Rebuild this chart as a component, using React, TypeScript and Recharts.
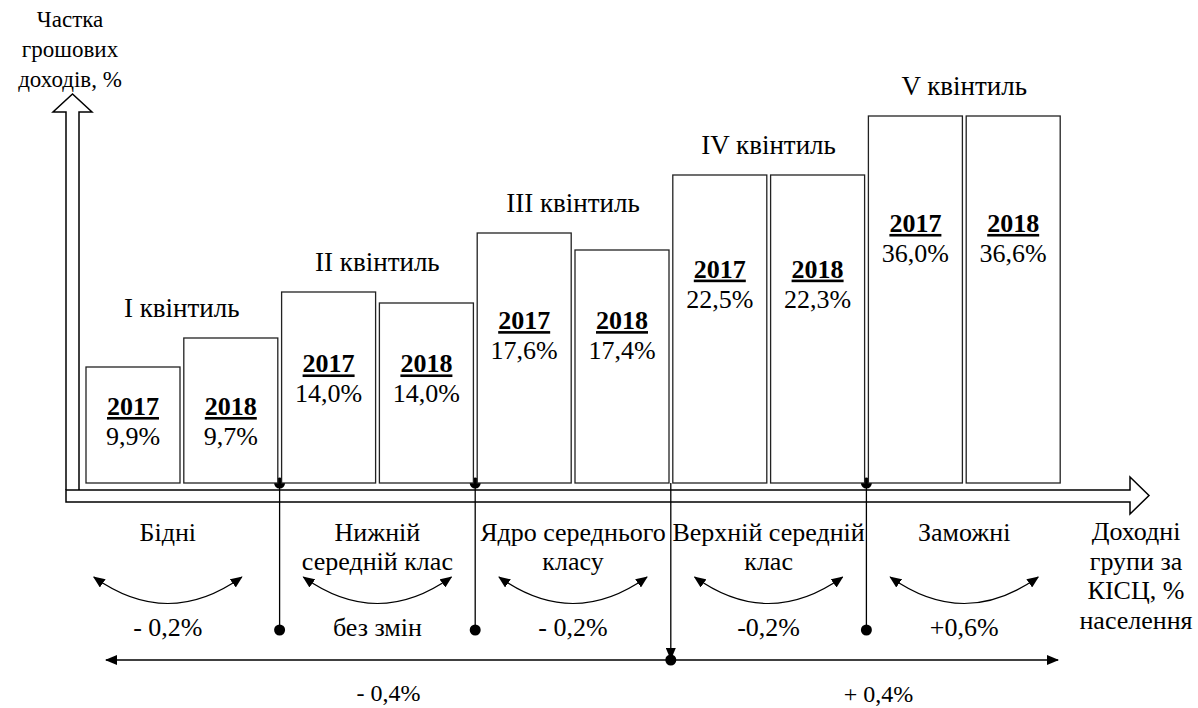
import { Bar, BarChart, Customized, XAxis, YAxis } from "recharts";

const quintiles = ["I", "II", "III", "IV", "V"];
const years = ["2017", "2018"];
// share of money income, % (2017, 2018 for each quintile)
const incomeShare = [9.9, 9.7, 14.0, 14.0, 17.6, 17.4, 22.5, 22.3, 36.0, 36.6];
// bars in the scheme are not to scale with the share, heights as drawn
const drawnHeight = [11.6, 14.5, 19.1, 18.0, 25.0, 23.3, 30.8, 30.8, 36.7, 36.7];
const groupNames = [
  ["Бідні"],
  ["Нижній", "середній клас"],
  ["Ядро середнього", "класу"],
  ["Верхній середній", "клас"],
  ["Заможні"],
];
const groupChange = ["- 0,2%", "без змін", "- 0,2%", "-0,2%", "+0,6%"];
const sideChange = ["- 0,4%", "+ 0,4%"];
const yTitle = ["Частка", "грошових", "доходів, %"];
const xTitle = ["Доходні", "групи за", "КІСЦ, %", "населення"];

const data = incomeShare.map((share, i) => ({
  key: quintiles[Math.floor(i / 2)] + "-" + years[i % 2],
  quintile: quintiles[Math.floor(i / 2)],
  year: years[i % 2],
  share,
  h: drawnHeight[i],
}));

const W = 1198;
const H = 708;
const MARGIN = { top: 83, right: 136, bottom: 225, left: 84 };
const GAP = 2;
const FONT = "Liberation Serif";

const PLOT_L = MARGIN.left;
const PLOT_R = W - MARGIN.right;
const BASE = H - MARGIN.bottom;
const QW = (PLOT_R - PLOT_L) / quintiles.length;
const qCenter = (k: number) => PLOT_L + (k + 0.5) * QW - (k === 0 ? 14 : 0);
const qEdge = (k: number) => PLOT_L + k * QW;

const fmt = (v: number) => v.toFixed(1).replace(".", ",") + "%";

function BarWithLabels(props: any) {
  const { x, y, width, height, payload } = props;
  const index = props.index ?? data.findIndex((d) => d.key === payload.key);
  const unit = height / drawnHeight[index];
  const partner = index ^ 1;
  const pH = drawnHeight[partner] * unit;
  const base = y + height;
  const meanH = (height + pH) / 2;
  const yearY = base - meanH + 24 + 0.226 * meanH;
  const cx = x + width / 2;
  const topMost = base - Math.max(height, pH);
  return (
    <g>
      <rect x={x} y={y} width={width} height={height} fill="#fff" stroke="#222" strokeWidth={1.3} />
      <text
        x={cx}
        y={yearY + 9}
        textAnchor="middle"
        style={{ fontFamily: FONT }}
        fontSize={26}
        fontWeight="bold"
        textDecoration="underline"
        fill="#000"
      >
        {payload.year}
      </text>
      <text x={cx} y={yearY + 39} textAnchor="middle" style={{ fontFamily: FONT }} fontSize={26} fill="#000">
        {fmt(payload.share)}
      </text>
      {index % 2 === 1 && (
        <text
          x={x - GAP}
          y={topMost - 21}
          textAnchor="middle"
          style={{ fontFamily: FONT }}
          fontSize={27}
          fill="#000"
        >
          {payload.quintile} квінтиль
        </text>
      )}
    </g>
  );
}

function Annotations() {
  const txt = { style: { fontFamily: FONT }, fill: "#000", textAnchor: "middle" as const };
  const dot = (cx: number, cy: number, k: string) => <circle key={k} cx={cx} cy={cy} r={5.5} fill="#000" />;
  const mid = qEdge(3);
  const hl = 106;
  const hr = 1058;
  return (
    <g>
      <defs>
        <marker
          id="arrowHead"
          viewBox="0 0 12 10"
          refX="11"
          refY="5"
          markerWidth="12"
          markerHeight="10"
          markerUnits="userSpaceOnUse"
          orient="auto-start-reverse"
        >
          <path d="M0,0 L12,5 L0,10 z" fill="#000" />
        </marker>
      </defs>
      {/* axes drawn as hollow arrows */}
      <polyline
        points={`66,490 66,112 53,112 72.5,94 92,112 79,112 79,490`}
        fill="none"
        stroke="#000"
        strokeWidth={1.5}
      />
      <polygon
        points={`66,490 1130,490 1130,477 1149,495.5 1130,514 1130,502 66,502`}
        fill="none"
        stroke="#000"
        strokeWidth={1.5}
      />
      {yTitle.map((t, i) => (
        <text key={t} {...txt} x={70} y={27 + i * 30} fontSize={23}>
          {t}
        </text>
      ))}
      {xTitle.map((t, i) => (
        <text key={t} {...txt} x={1136} y={540 + i * 29.5} fontSize={26}>
          {t}
        </text>
      ))}
      {groupNames.map((lines, k) =>
        lines.map((t, j) => (
          <text key={k + "-" + j} {...txt} x={qCenter(k)} y={541 + j * 29} fontSize={26}>
            {t}
          </text>
        ))
      )}
      {groupChange.map((t, k) => {
        const c = qCenter(k);
        return (
          <g key={"c" + k}>
            <path
              d={`M${c - 74},577 Q${c},630 ${c + 74},577`}
              fill="none"
              stroke="#000"
              strokeWidth={1.2}
              markerStart="url(#arrowHead)"
              markerEnd="url(#arrowHead)"
            />
            <text {...txt} x={c} y={636} fontSize={26}>
              {t}
            </text>
          </g>
        );
      })}
      {[1, 2, 4].map((k) => (
        <g key={"b" + k}>
          <line x1={qEdge(k)} y1={BASE} x2={qEdge(k)} y2={630} stroke="#000" strokeWidth={1.3} />
          {dot(qEdge(k), BASE, "t" + k)}
          {dot(qEdge(k), 630, "d" + k)}
        </g>
      ))}
      <line x1={mid} y1={BASE} x2={mid} y2={659} stroke="#000" strokeWidth={1.3} markerEnd="url(#arrowHead)" />
      {dot(mid, 660, "mid")}
      <line
        x1={hl}
        y1={660}
        x2={hr}
        y2={660}
        stroke="#000"
        strokeWidth={1.3}
        markerStart="url(#arrowHead)"
        markerEnd="url(#arrowHead)"
      />
      <text {...txt} x={(hl + mid) / 2} y={701} fontSize={24}>
        {sideChange[0]}
      </text>
      <text {...txt} x={(mid + hr) / 2 + 14} y={702} fontSize={24}>
        {sideChange[1]}
      </text>
    </g>
  );
}

export default function App() {
  return (
    <div style={{ position: "absolute", left: 0, top: 0, width: W, height: H, background: "#fff" }}>
      <BarChart width={W} height={H} data={data} margin={MARGIN} barCategoryGap={GAP}>
        <XAxis dataKey="key" hide />
        <YAxis hide domain={[0, 40]} />
        <Bar dataKey="h" isAnimationActive={false} shape={<BarWithLabels />} />
        <Customized component={<Annotations />} />
      </BarChart>
    </div>
  );
}
